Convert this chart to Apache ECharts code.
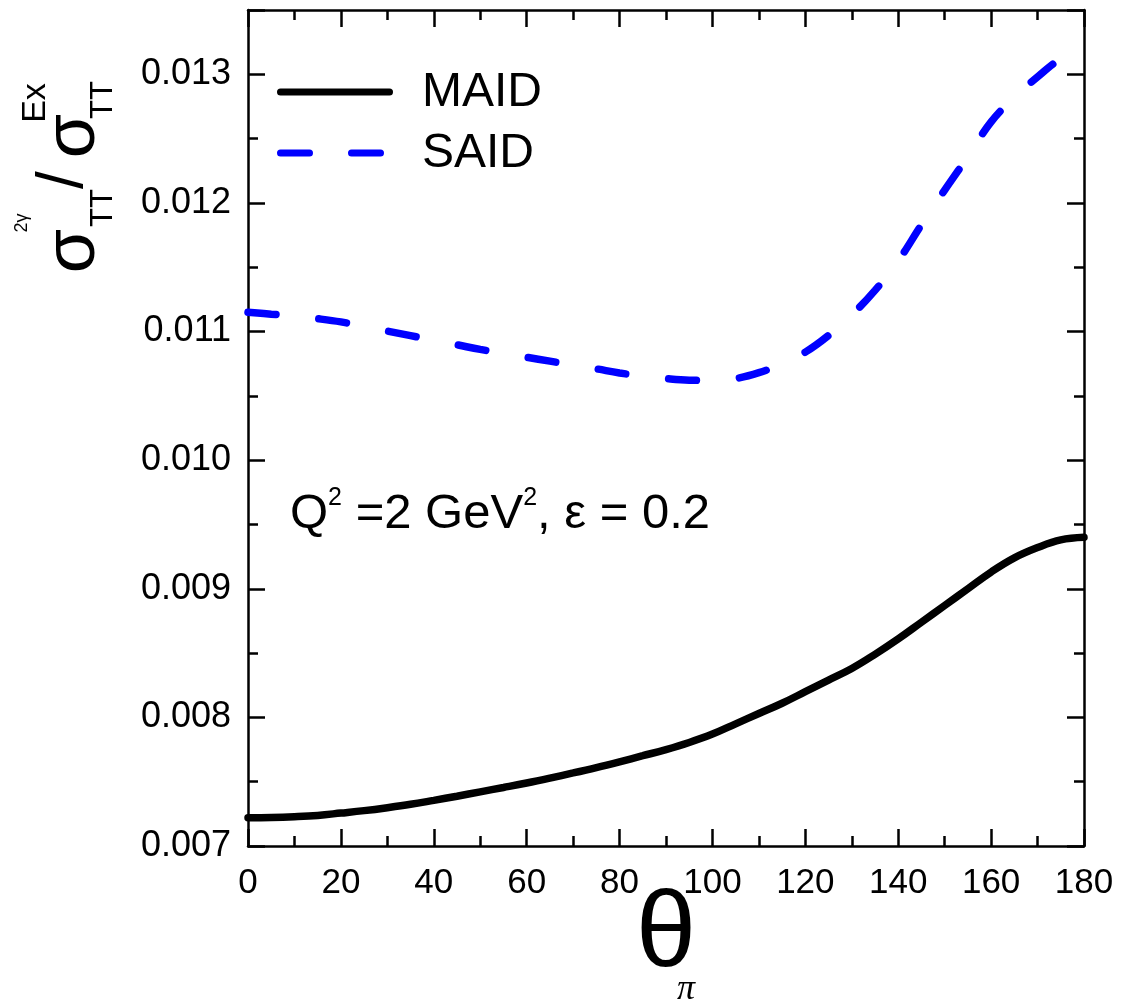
<!DOCTYPE html>
<html>
<head>
<meta charset="utf-8">
<title>sigma ratio</title>
<script src="https://cdn.jsdelivr.net/npm/echarts@6/dist/echarts.min.js"></script>
<style>
  html, body { margin: 0; padding: 0; background: #fff; }
  #chart { width: 1121px; height: 1007px; }
</style>
</head>
<body>
<div id="chart"></div>
<script>
// theta_pi in degrees
var angles = [0, 5, 10, 15, 20, 25, 30, 35, 40, 45, 50, 55, 60, 65, 70, 75, 80, 85, 90,
  95, 100, 105, 110, 115, 120, 125, 130, 135, 140, 145, 150, 155, 160, 165, 170, 175, 180];

var maid = [0.00722, 0.007222, 0.007228, 0.007238, 0.007256, 0.007275, 0.007298, 0.007324, 0.007355,
  0.007387, 0.007421, 0.007455, 0.00749, 0.007528, 0.007568, 0.00761, 0.007655, 0.007702, 0.00775,
  0.007805, 0.00787, 0.00795, 0.00803, 0.00811, 0.0082, 0.00829, 0.00838, 0.00849, 0.00861,
  0.00874, 0.00887, 0.009, 0.00913, 0.00924, 0.00932, 0.00938, 0.0094];

var said = [0.01115, 0.011135, 0.01112, 0.0111, 0.011075, 0.01104, 0.011003, 0.010968, 0.010932,
  0.010897, 0.010861, 0.01083, 0.0108, 0.01077, 0.01074, 0.01071, 0.010678, 0.010655, 0.010635,
  0.010622, 0.01062, 0.010635, 0.01068, 0.01075, 0.01084, 0.01097, 0.01113, 0.01132, 0.01155,
  0.01183, 0.0121, 0.01236, 0.01263, 0.01282, 0.01298, 0.01312, 0.0132];

var xMin = 0, xMax = 180, xStep = 20;
var yMin = 0.007, yMax = 0.0135, yStep = 0.001, yMinorStep = 0.0005;

var FONT = 'Liberation Sans, Arial, sans-serif';
var BLUE = '#0000ff';

function pairs(xs, ys) {
  return xs.map(function (x, i) { return [x, ys[i]]; });
}

function yLabel(v) {
  var k = v * 1000;
  if (Math.abs(k - Math.round(k)) > 1e-6) return '';
  return v.toFixed(3);
}

var chart = echarts.init(document.getElementById('chart'));

var lineAxis = { show: true, lineStyle: { color: '#000', width: 2.5 } };

function xAx(pos, labels) {
  return {
    type: 'value', position: pos, min: xMin, max: xMax, interval: xStep,
    axisLine: lineAxis,
    axisTick: { show: true, inside: true, length: 17, lineStyle: { color: '#000', width: 2.5 } },
    minorTick: { show: true, splitNumber: 2, length: 10, lineStyle: { color: '#000', width: 2.5 } },
    axisLabel: { show: labels, margin: 20, color: '#000', fontSize: 35, fontFamily: FONT },
    splitLine: { show: false }
  };
}

function yAx(pos, step, len, labels, line) {
  return {
    type: 'value', position: pos, min: yMin, max: yMax, interval: step,
    axisLine: line ? lineAxis : { show: false },
    axisTick: { show: true, inside: true, length: len, lineStyle: { color: '#000', width: 2.5 } },
    axisLabel: { show: labels, margin: 17, color: '#000', fontSize: 36, fontFamily: FONT, formatter: yLabel },
    splitLine: { show: false }
  };
}

var yNameParts = [
  { t: '\u03c3', x: 74, y: 251, size: 72 },
  { t: 'TT', x: 103, y: 208, size: 31 },
  { t: '2\u03b3', x: 22, y: 223, size: 18 },
  { t: '/', x: 64, y: 180, size: 64 },
  { t: '\u03c3', x: 74, y: 136, size: 72 },
  { t: 'TT', x: 103, y: 100, size: 31 },
  { t: 'Ex', x: 36, y: 103, size: 34 }
];

var graphics = yNameParts.map(function (p) {
  return {
    type: 'text', x: p.x, y: p.y, rotation: Math.PI / 2,
    style: { text: p.t, fill: '#000', font: p.size + 'px ' + FONT, align: 'center', verticalAlign: 'middle' }
  };
});

graphics.push(
  { type: 'line', shape: { x1: 280.5, y1: 92, x2: 389.5, y2: 92 },
    style: { stroke: '#000', lineWidth: 7, lineCap: 'round' } },
  { type: 'text', x: 422, y: 93,
    style: { text: 'MAID', fill: '#000', font: '48px ' + FONT, verticalAlign: 'middle' } },
  { type: 'line', shape: { x1: 280.5, y1: 153, x2: 381.5, y2: 153 },
    style: { stroke: BLUE, lineWidth: 7, lineCap: 'round', lineDash: [29, 42] } },
  { type: 'text', x: 422, y: 154,
    style: { text: 'SAID', fill: '#000', font: '48px ' + FONT, verticalAlign: 'middle' } },
  { type: 'text', x: 290, y: 514,
    style: {
      text: 'Q{sup|2} =2 GeV{sup|2}, \u03b5 = 0.2',
      fill: '#000', fontSize: 49, fontFamily: FONT, lineHeight: 56, verticalAlign: 'middle',
      rich: { sup: { fontSize: 25, lineHeight: 25, verticalAlign: 'top', fontFamily: FONT, fill: '#000' } }
    } },
  { type: 'text', x: 666, y: 936,
    style: { text: '\u03b8', fill: '#000', font: '108px ' + FONT, align: 'center', verticalAlign: 'middle' } },
  { type: 'text', x: 686, y: 990,
    style: { text: '\u03c0', fill: '#000', font: 'italic 36px Liberation Serif, serif', align: 'center', verticalAlign: 'middle' } }
);

var option = {
  backgroundColor: '#fff',
  animation: false,
  grid: { left: 248, right: 37, top: 10, bottom: 161, outerBoundsMode: 'none' },
  xAxis: [xAx('bottom', true), xAx('top', false)],
  yAxis: [
    yAx('left', yStep, 17, true, true),
    yAx('left', yMinorStep, 10, false, false),
    yAx('right', yStep, 17, false, true),
    yAx('right', yMinorStep, 10, false, false)
  ],
  series: [
    {
      name: 'MAID', type: 'line', xAxisIndex: 0, yAxisIndex: 0,
      data: pairs(angles, maid), smooth: 0.4, showSymbol: false, symbol: 'none',
      lineStyle: { color: '#000', width: 7.5, cap: 'round' }
    },
    {
      name: 'SAID', type: 'line', xAxisIndex: 0, yAxisIndex: 0,
      data: pairs(angles, said), smooth: 0.4, showSymbol: false, symbol: 'none',
      lineStyle: { color: BLUE, width: 7.5, type: [28, 43], cap: 'round' }
    }
  ],
  graphic: graphics
};

chart.setOption(option);
</script>
</body>
</html>
